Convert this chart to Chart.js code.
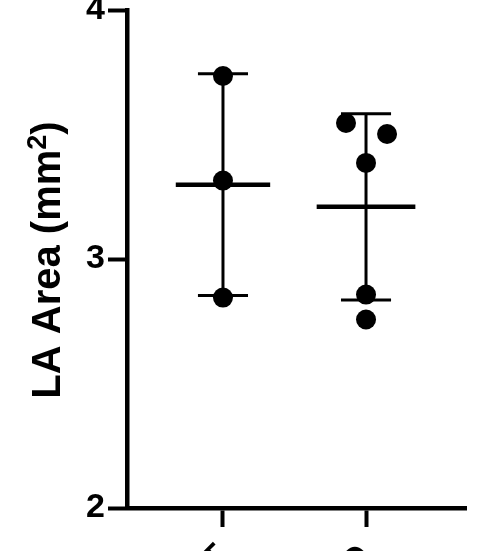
<!DOCTYPE html>
<html>
<head>
<meta charset="utf-8">
<style>
html,body{margin:0;padding:0;background:#fff;}
#wrap{width:480px;height:551px;position:relative;}
</style>
<script src="https://cdn.jsdelivr.net/npm/chart.js@4.4.0/dist/chart.umd.min.js"></script>
</head>
<body>
<div id="wrap"><canvas id="c" width="480" height="551"></canvas></div>
<script>
const categories = ["WT", "KO"];
const groupX = [1, 2];
const group1Values = [3.735, 3.315, 2.845];
const group1X = [1, 1, 1];
const group2Values = [3.546, 3.502, 3.386, 2.857, 2.757];
const group2X = [1.86, 2.147, 2, 2, 2];
const yTicks = [2, 3, 4];
const yTitleMain = "LA Area (mm";
const yTitleSup = "2";
const yTitleEnd = ")";

function mean(a){return a.reduce((s,v)=>s+v,0)/a.length;}
function sd(a){const m=mean(a);return Math.sqrt(a.reduce((s,v)=>s+(v-m)*(v-m),0)/(a.length-1));}

const groups = [
  {x: groupX[0], vals: group1Values, xs: group1X, meanHalf: 0.33},
  {x: groupX[1], vals: group2Values, xs: group2X, meanHalf: 0.345}
];
const capHalf = 0.175;

const datasets = [];
groups.forEach(g => {
  datasets.push({
    type: 'scatter',
    data: g.vals.map((v,i)=>({x:g.xs[i], y:v})),
    backgroundColor: '#000', borderColor: '#000',
    pointRadius: 10, pointHoverRadius: 10, borderWidth: 0
  });
});
groups.forEach(g => {
  const m = mean(g.vals), s = sd(g.vals);
  const lineDs = (pts, w) => ({
    type: 'line', data: pts, borderColor: '#000', borderWidth: w,
    pointRadius: 0, fill: false, tension: 0, showLine: true, borderCapStyle: 'butt'
  });
  datasets.push(lineDs([{x:g.x - g.meanHalf, y:m},{x:g.x + g.meanHalf, y:m}], 4.5));
  datasets.push(lineDs([{x:g.x, y:m - s},{x:g.x, y:m + s}], 3));
  datasets.push(lineDs([{x:g.x - capHalf, y:m + s},{x:g.x + capHalf, y:m + s}], 3));
  datasets.push(lineDs([{x:g.x - capHalf, y:m - s},{x:g.x + capHalf, y:m - s}], 3));
});

const fontFam = "'Liberation Sans', Arial, sans-serif";

const titlePlugin = {
  id: 'ytitle',
  afterDraw(chart) {
    const ctx = chart.ctx;
    ctx.save();
    ctx.fillStyle = '#000';
    const mainFont = "bold 40px " + fontFam;
    const supFont = "bold 27px " + fontFam;
    ctx.font = mainFont;
    const w1 = ctx.measureText(yTitleMain).width;
    const w3 = ctx.measureText(yTitleEnd).width;
    ctx.font = supFont;
    const w2 = ctx.measureText(yTitleSup).width;
    const total = w1 + w2 + w3;
    ctx.translate(60, 260);
    ctx.rotate(-Math.PI / 2);
    ctx.textBaseline = 'alphabetic';
    ctx.textAlign = 'left';
    let x = -total / 2;
    ctx.font = mainFont;
    ctx.fillText(yTitleMain, x, 0);
    x += w1;
    ctx.font = supFont;
    ctx.fillText(yTitleSup, x, -14);
    x += w2;
    ctx.font = mainFont;
    ctx.fillText(yTitleEnd, x, 0);
    ctx.restore();
  }
};

new Chart(document.getElementById('c'), {
  type: 'scatter',
  data: { datasets },
  plugins: [titlePlugin],
  options: {
    responsive: false,
    animation: false,
    layout: { padding: { top: 7, right: 14, left: 0, bottom: 0 } },
    plugins: { legend: { display: false }, tooltip: { enabled: false } },
    scales: {
      x: {
        type: 'linear',
        min: 0.329, max: 2.699,
        afterBuildTicks: (sc) => { sc.ticks = groupX.map(v => ({value: v})); },
        afterFit: (sc) => { sc.height = 43; sc.paddingLeft = 0; sc.paddingRight = 0; },
        border: { display: true, color: '#000', width: 4.5 },
        grid: { drawOnChartArea: false, drawTicks: true, tickLength: 19, tickWidth: 4, tickColor: '#000' },
        ticks: {
          autoSkip: false, minRotation: 45, maxRotation: 45, padding: 10,
          color: '#000', font: { family: fontFam, size: 34, weight: 'bold' },
          callback: (v) => { const i = groupX.indexOf(v); return i >= 0 ? categories[i] : ''; }
        }
      },
      y: {
        min: 2, max: 4,
        afterBuildTicks: (sc) => { sc.ticks = yTicks.map(v => ({value: v})); },
        afterFit: (sc) => { sc.width = 127; sc.paddingTop = 0; sc.paddingBottom = 0; },
        border: { display: true, color: '#000', width: 4.5 },
        grid: { drawOnChartArea: false, drawTicks: true, tickLength: 19, tickWidth: 4, tickColor: '#000' },
        ticks: {
          padding: 3, color: '#000', font: { family: fontFam, size: 34, weight: 'bold' }
        },
        title: { display: false }
      }
    }
  }
});
</script>
</body>
</html>
